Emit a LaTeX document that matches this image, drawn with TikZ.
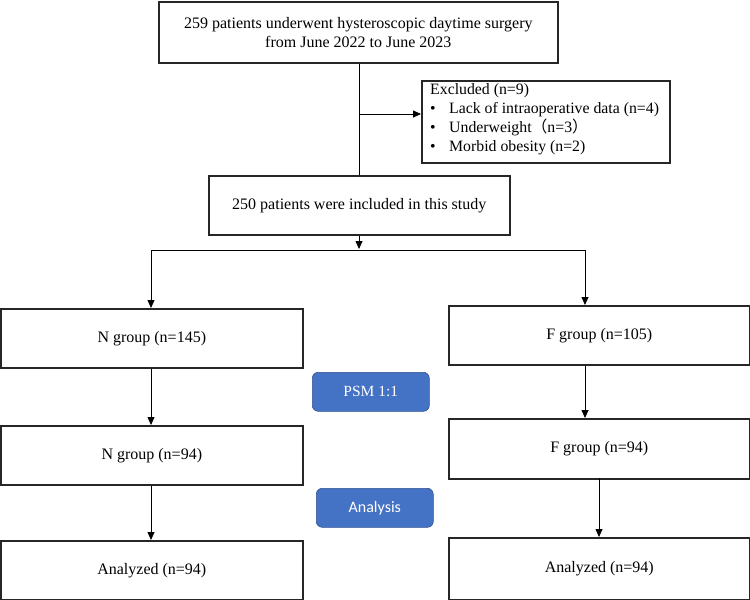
\documentclass[tikz,border=0pt]{standalone}
\usepackage{fontspec}
\setmainfont{Liberation Serif}
\newfontfamily\calibri{Carlito}
\newfontfamily\cjk{Noto Sans CJK SC}
\usetikzlibrary{arrows.meta}
\definecolor{boxline}{HTML}{262626}
\definecolor{officeblue}{HTML}{4472C4}
\definecolor{blueedge}{HTML}{2F528F}
\tikzset{
  box/.style={draw=boxline, line width=1.6pt, anchor=north west, inner sep=0pt, align=center, font=\fontsize{16}{19}\selectfont},
  bluebox/.style={draw=blueedge, line width=0.6pt, fill=officeblue, rounded corners=6pt, anchor=north west, inner sep=0pt, text=white, font=\fontsize{15.5}{18}\selectfont},
  conn/.style={draw=black, line width=0.8pt},
  arr/.style={conn, -{Triangle[length=8pt, width=7pt]}},
}
\begin{document}
\begin{tikzpicture}[x=1pt, y=-1pt]
\useasboundingbox (0,0) rectangle (750,600);
% boxes
\node[box, minimum width=399pt, minimum height=61pt] (top) at (158,1) {259 patients underwent hysteroscopic daytime surgery\\from June 2022 to June 2023};
\node[box, minimum width=248pt, minimum height=82pt] (excl) at (421,80) {};
\node[anchor=north west, inner sep=0pt, align=left, font=\fontsize{15.8}{19}\selectfont] (excltext) at (430,83) {Excluded (n=9)\\
\makebox[19pt][l]{\textbullet}Lack of intraoperative data (n=4)\\
\makebox[19pt][l]{\textbullet}Underweight{\cjk （}n=3{\cjk ）}\\
\makebox[19pt][l]{\textbullet}Morbid obesity (n=2)};
\node[box, minimum width=301pt, minimum height=59pt] (incl) at (208,175) {250 patients were included in this study};
\node[box, minimum width=302pt, minimum height=59pt] (n145) at (0,308) {N group (n=145)};
\node[box, minimum width=301pt, minimum height=59pt] (f105) at (448,305) {F group (n=105)};
\node[box, minimum width=302pt, minimum height=59pt] (n94) at (0,425) {N group (n=94)};
\node[box, minimum width=301pt, minimum height=60pt] (f94) at (448,418) {F group (n=94)};
\node[box, minimum width=302pt, minimum height=59pt] (anl) at (0,540) {Analyzed (n=94)};
\node[box, minimum width=301pt, minimum height=62pt] (anr) at (448,537) {Analyzed (n=94)};
\node[bluebox, minimum width=117pt, minimum height=39pt] (psm) at (312,372) {PSM 1:1};
\node[bluebox, minimum width=117pt, minimum height=39pt, font=\calibri\fontsize{16}{18}\selectfont] (ana) at (316,488) {Analysis};
% connectors
\coordinate (jx) at (359,114);
\coordinate (vend) at (359,175);
\coordinate (split) at (359,249);
\coordinate (hl) at (151,250);
\coordinate (hr) at (585,250);
\draw[conn] (top.south -| jx) -- (vend);
\draw[arr] (jx) -- (excl.west |- jx);
\draw[arr] (incl.south -| split) -- (split);
\draw[conn] (hl) -- (hr);
\draw[arr] (hl) -- (hl |- n145.north);
\draw[arr] (hr) -- (hr |- f105.north);
\draw[arr] (hl |- n145.south) -- (hl |- n94.north);
\draw[arr] (hl |- n94.south) -- (hl |- anl.north);
\draw[arr] (hr |- f105.south) -- (hr |- f94.north);
\coordinate (fr) at (599,478);
\draw[arr] (fr) -- (fr |- anr.north);
\end{tikzpicture}
\end{document}
